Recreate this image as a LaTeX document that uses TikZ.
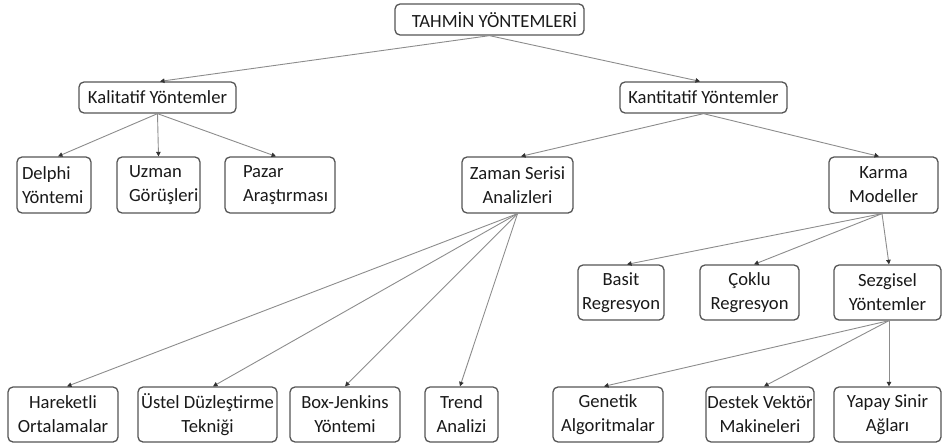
\documentclass[tikz,border=0pt]{standalone}
\usepackage{fontspec}
\setmainfont{Carlito}
\usetikzlibrary{arrows.meta}
\definecolor{boxline}{HTML}{555555}
\definecolor{linkline}{HTML}{8C8C8C}
\definecolor{tipcol}{HTML}{333333}
\begin{document}
\begin{tikzpicture}[x=1pt,y=-1pt,
  every node/.style={font=\fontsize{18.6}{24}\selectfont, text=black!90},
  box/.style={draw=boxline, line width=1.3pt, rounded corners=5pt, inner sep=1pt},
  one/.style={box, minimum height=31pt},
  two/.style={box, minimum height=56pt, align=center},
  twol/.style={box, minimum height=56pt, align=left},
  link/.style={draw=linkline, line width=0.9pt,
    -{Triangle[length=4.5pt,width=4.5pt,color=tipcol]}}]
\useasboundingbox (0,0) rectangle (942,444);

% root
\node[one, minimum width=189pt] (root) at (489.5,19.5) {\hspace{10pt}TAHMİN YÖNTEMLERİ};

% second level
\node[one, minimum width=157pt] (kal) at (157.5,97.5) {Kalitatif Yöntemler};
\node[one, minimum width=167pt] (kan) at (703.5,97.5) {Kantitatif Yöntemler};

% qualitative methods (left-aligned labels)
\node[twol, minimum width=74pt, text width=72pt] (delphi) at (54,185) {\hspace{4pt}Delphi\\\hspace{4pt}Yöntemi};
\node[twol, minimum width=83pt, text width=81pt] (uzman) at (158.5,185) {\hspace{11pt}Uzman\\\hspace{11pt}Görüşleri};
\node[twol, minimum width=110pt, text width=108pt] (pazar) at (280,185) {\hspace{17pt}Pazar\\\hspace{17pt}Araştırması};

% quantitative methods
\node[two, minimum width=111pt] (zaman) at (517.5,185) {Zaman Serisi\\Analizleri};
\node[two, minimum width=109pt] (karma) at (883.5,185) {Karma\\Modeller};

% time series analyses
\node[two, minimum width=110pt, minimum height=55pt] (har) at (63,414.5) {Hareketli\\Ortalamalar};
\node[two, minimum width=139pt, minimum height=55pt] (ust) at (207.5,414.5) {Üstel Düzleştirme\\Tekniği};
\node[two, minimum width=110pt, minimum height=55pt] (box) at (345,414.5) {Box-Jenkins\\Yöntemi};
\node[two, minimum width=73pt, minimum height=55pt] (trend) at (461.5,414.5) {Trend\\Analizi};

% hybrid models
\node[two, minimum width=86pt, minimum height=55pt] (basit) at (621,292.5) {Basit\\Regresyon};
\node[two, minimum width=99pt, minimum height=55pt] (coklu) at (749.5,292.5) {Çoklu\\Regresyon};
\node[two, minimum width=107pt, minimum height=55pt] (sez) at (887.5,292.5) {Sezgisel\\Yöntemler};

% heuristic methods
\node[two, minimum width=110pt, minimum height=55pt] (gen) at (608,414.5) {Genetik\\Algoritmalar};
\node[two, minimum width=108pt, minimum height=55pt] (destek) at (760,414.5) {Destek Vektör\\Makineleri};
\node[two, minimum width=107pt, minimum height=55pt] (yapay) at (887.5,414.5) {Yapay Sinir\\Ağları};

% connectors
\draw[link] (root.south) -- ([xshift=2.5pt]kal.north);
\draw[link] (root.south) -- ([xshift=-3.5pt]kan.north);

\draw[link] (kal.south) -- ([xshift=4pt]delphi.north);
\draw[link] (kal.south) -- (uzman.north);
\draw[link] (kal.south) -- ([xshift=-4pt]pazar.north);

\draw[link] (kan.south) -- ([xshift=3.5pt]zaman.north);
\draw[link] (kan.south) -- ([xshift=-4.5pt]karma.north);

\draw[link] (zaman.south) -- ([xshift=4pt]har.north);
\draw[link] (zaman.south) -- ([xshift=5.5pt]ust.north);
\draw[link] (zaman.south) -- (box.north);
\draw[link] (zaman.south) -- ([xshift=-1.5pt]trend.north);

\draw[link] ([xshift=-1.5pt]karma.south) -- ([xshift=6pt]basit.north);
\draw[link] ([xshift=-1.5pt]karma.south) -- ([xshift=4.5pt]coklu.north);
\draw[link] ([xshift=-1.5pt]karma.south) -- ([xshift=1.5pt]sez.north);

\draw[link] ([xshift=1.5pt]sez.south) -- ([xshift=-4pt]gen.north);
\draw[link] ([xshift=1.5pt]sez.south) -- ([xshift=4pt]destek.north);
\draw[link] ([xshift=1.5pt]sez.south) -- ([xshift=1.5pt]yapay.north);
\end{tikzpicture}
\end{document}
